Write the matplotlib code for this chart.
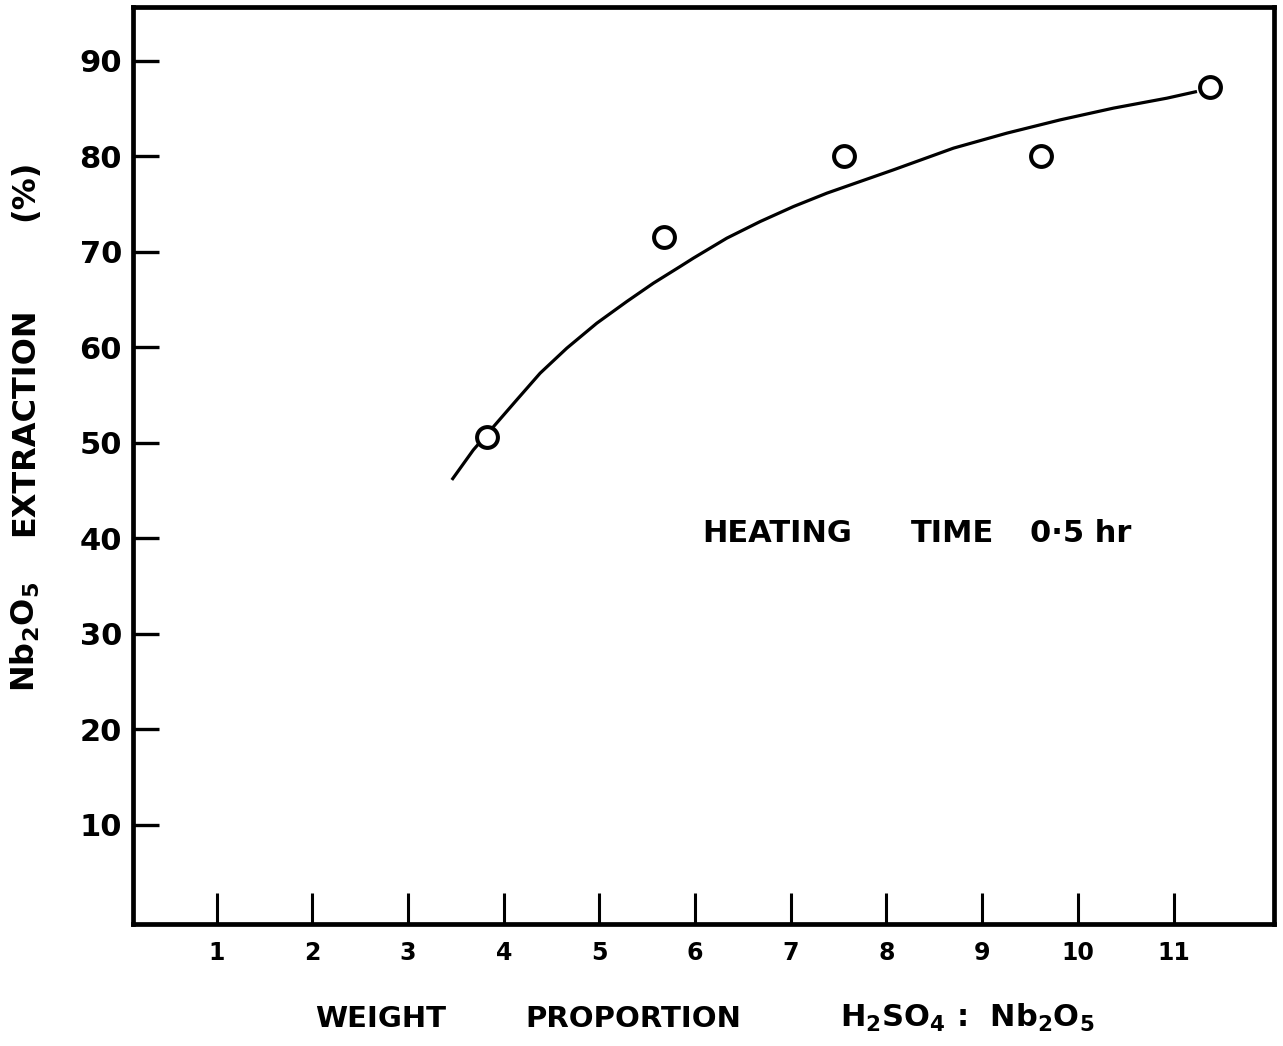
import matplotlib
matplotlib.use("Agg")
import matplotlib.pyplot as plt

# measured points (weight ratio H2SO4:Nb2O5, % extraction)
ratio = [3.82, 5.67, 7.56, 9.61, 11.38]
extraction = [50.6, 71.5, 80.0, 80.0, 87.2]

# hand-drawn trend curve
curve_x = [3.457, 3.682, 3.909, 4.136, 4.380, 4.659, 4.972, 5.286, 5.564, 5.843,
           5.982, 6.331, 6.680, 7.028, 7.377, 7.725, 8.073, 8.700, 9.258, 9.816,
           10.373, 10.931, 11.245]
curve_y = [46.11, 49.25, 51.87, 54.49, 57.28, 59.90, 62.51, 64.78, 66.70, 68.44,
           69.32, 71.41, 73.15, 74.72, 76.12, 77.34, 78.56, 80.83, 82.40, 83.79,
           85.02, 86.06, 86.76]

x_ticks = [1, 2, 3, 4, 5, 6, 7, 8, 9, 10, 11]
y_ticks = [10, 20, 30, 40, 50, 60, 70, 80, 90]

plt.rcParams['font.family'] = ['DejaVu Sans']
plt.rcParams['font.weight'] = 'bold'
plt.rcParams['mathtext.fontset'] = 'dejavusans'
plt.rcParams['mathtext.default'] = 'bf'

fig = plt.figure(figsize=(12.83, 10.46), dpi=100)
ax = fig.add_axes([133 / 1283, 122 / 1046, 1141 / 1283, 917 / 1046])

ax.plot(curve_x, curve_y, color='black', lw=2.3, solid_capstyle='butt',
        solid_joinstyle='round')
ax.plot(ratio, extraction, 'o', ms=15, mfc='white', mec='black', mew=2.9)

ax.set_xlim(0.125, 12.05)
ax.set_ylim(-0.36, 95.6)

for s in ax.spines.values():
    s.set_linewidth(3.4)
    s.set_color('black')

ax.set_xticks(x_ticks)
ax.set_xticklabels([str(t) for t in x_ticks])
ax.set_yticks(y_ticks)
ax.set_yticklabels([str(t) for t in y_ticks])
ax.tick_params(axis='x', direction='in', length=22, width=2.2, pad=12, labelsize=17)
ax.tick_params(axis='y', direction='in', length=19, width=2.4, pad=8, labelsize=22)

# annotation, three words spaced as in the original
ax.text(6.07, 40.5, 'HEATING', fontsize=22, ha='left', va='center')
ax.text(8.25, 40.5, 'TIME', fontsize=22, ha='left', va='center')
ax.text(9.50, 40.5, '0·5 hr', fontsize=22, ha='left', va='center')

# x axis title in three pieces
ax.text(0.160, -0.112, 'WEIGHT', transform=ax.transAxes, fontsize=21, va='baseline')
ax.text(0.3436, -0.112, 'PROPORTION', transform=ax.transAxes, fontsize=21, va='baseline')
ax.text(0.6196, -0.112, r'H$_2$SO$_4$ :  Nb$_2$O$_5$', transform=ax.transAxes,
        fontsize=22, va='baseline')

# y axis title pieces
ax.text(-0.0947, (924 - 637) / 917, r'Nb$_2$O$_5$', transform=ax.transAxes,
        fontsize=23, rotation=90, ha='center', va='center')
ax.text(-0.0947, (924 - 422) / 917, 'EXTRACTION', transform=ax.transAxes,
        fontsize=23, rotation=90, ha='center', va='center')
ax.text(-0.0947, (924 - 190) / 917, '(%)', transform=ax.transAxes,
        fontsize=23, rotation=90, ha='center', va='center')

fig.savefig('out.png', dpi=100, facecolor='white')
